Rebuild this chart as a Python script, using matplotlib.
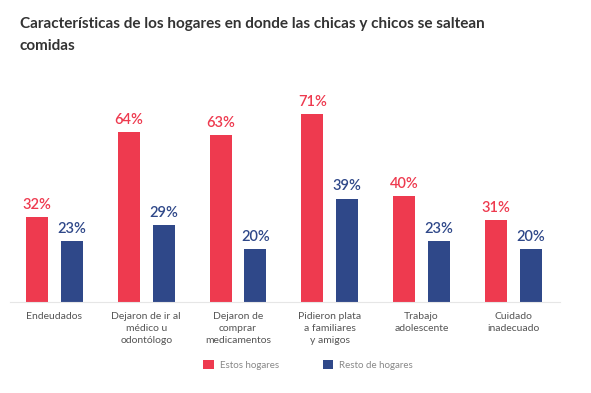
import matplotlib
matplotlib.use("Agg")
import matplotlib.pyplot as plt
from matplotlib.patches import Patch
import numpy as np

categorias = ["Endeudados", "Dejaron de ir al\nmédico u\nodontólogo", "Dejaron de\ncomprar\nmedicamentos",
              "Pidieron plata\na familiares\ny amigos", "Trabajo\nadolescente", "Cuidado\ninadecuado"]
estos = [32, 64, 63, 71, 40, 31]
resto = [23, 29, 20, 39, 23, 20]
series = ["Estos hogares", "Resto de hogares"]

rojo = "#EE3A4F"
azul = "#2F4889"

plt.rcParams['font.family'] = ['Lato', 'DejaVu Sans']

fig = plt.figure(figsize=(5.91, 3.93), dpi=100)
ax = fig.add_axes([10 / 591, 91 / 393, 550 / 591, 212 / 393])

x = np.arange(len(categorias))
off = 0.19
w = 0.24
ax.bar(x - off, estos, w, color=rojo)
ax.bar(x + off, resto, w, color=azul)

for xi, v in zip(x, estos):
    ax.text(xi - off, v + 2, f"{v}%", ha="center", va="bottom", color=rojo, fontsize=10.5, fontweight="semibold")
for xi, v in zip(x, resto):
    ax.text(xi + off, v + 2, f"{v}%", ha="center", va="bottom", color=azul, fontsize=10.5, fontweight="semibold")

ax.set_xlim(-0.485, 5.51)
ax.set_ylim(0, 80)
for s in ["top", "right", "left"]:
    ax.spines[s].set_visible(False)
ax.spines["bottom"].set_color("#e6e6e6")
ax.set_yticks([])
ax.set_xticks(x)
ax.set_xticklabels(categorias, fontsize=7.5, color="#555555", linespacing=1.45)
ax.tick_params(axis="x", length=0, pad=7)

fig.text(20 / 591, 1 - 35 / 393, "Características de los hogares en donde las chicas y chicos se saltean\ncomidas",
         ha="left", va="center", fontsize=11, fontweight="bold", color="#333333", linespacing=1.75)

handles = [Patch(facecolor=rojo, label=series[0]), Patch(facecolor=azul, label=series[1])]
fig.legend(handles=handles, loc="center", bbox_to_anchor=(308 / 591, 1 - 365 / 393), ncol=2, frameon=False,
           fontsize=7, labelcolor="#888888", handlelength=1.1, handleheight=1.1, columnspacing=4.5, handletextpad=0.6)

fig.savefig("out.png", dpi=100)
